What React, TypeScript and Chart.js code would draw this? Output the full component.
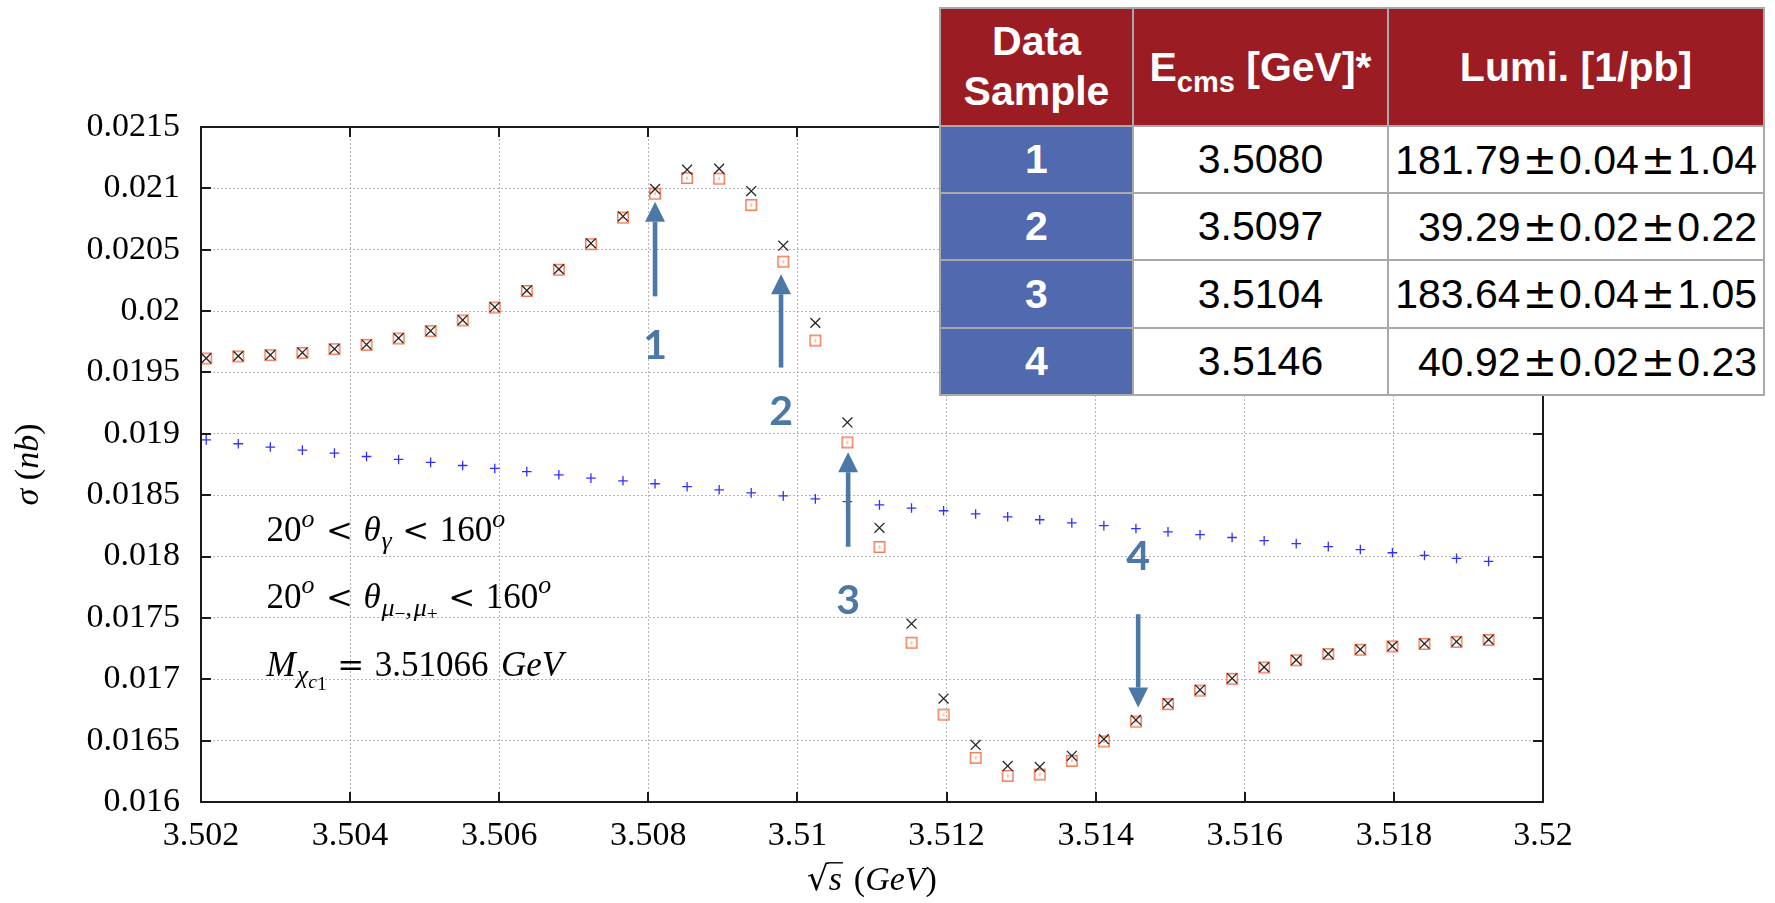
import React, { useEffect, useRef } from "react";
import { Chart, registerables } from "chart.js";

Chart.register(...registerables);

// ---- data ----
const energies = [
  3.50207, 3.5025, 3.50293, 3.50336, 3.50379, 3.50422, 3.50465, 3.50508, 3.50551, 3.50594,
  3.50637, 3.5068, 3.50723, 3.50766, 3.50809, 3.50852, 3.50895, 3.50938, 3.50981, 3.51024,
  3.51067, 3.5111, 3.51153, 3.51196, 3.51239, 3.51282, 3.51325, 3.51368, 3.51411, 3.51454,
  3.51497, 3.5154, 3.51583, 3.51626, 3.51669, 3.51712, 3.51755, 3.51798, 3.51841, 3.51884,
  3.51927,
];

const sigmaPlus = [
  0.018951, 0.018919, 0.018892, 0.018867, 0.018843, 0.018815, 0.018791, 0.018767, 0.018742, 0.018718,
  0.018692, 0.018666, 0.018639, 0.018617, 0.018593, 0.018569, 0.018544, 0.018519, 0.018494, 0.01847,
  0.018447, 0.018421, 0.018395, 0.018373, 0.018347, 0.018324, 0.0183, 0.018274, 0.018252, 0.018228,
  0.018201, 0.018178, 0.018155, 0.018129, 0.018105, 0.018081, 0.018057, 0.018031, 0.018009, 0.017985,
  0.017961,
];

const sigmaCross = [
  0.019616, 0.019633, 0.019643, 0.019662, 0.019692, 0.019727, 0.019779, 0.019839, 0.019927, 0.020032,
  0.020168, 0.020342, 0.020552, 0.020772, 0.020995, 0.021152, 0.02116, 0.020978, 0.020533, 0.019904,
  0.019093, 0.018234, 0.017453, 0.016843, 0.016465, 0.016294, 0.016286, 0.016376, 0.016512, 0.016669,
  0.016805, 0.016914, 0.017008, 0.017099, 0.017157, 0.017207, 0.017243, 0.01727, 0.01729, 0.017307,
  0.017323,
];

const sigmaSquare = [
  0.019614, 0.019631, 0.019641, 0.01966, 0.01969, 0.019725, 0.019777, 0.019837, 0.019924, 0.020029,
  0.020164, 0.020337, 0.020545, 0.020762, 0.020957, 0.021084, 0.021079, 0.020864, 0.020403, 0.01976,
  0.01893, 0.018078, 0.017298, 0.016712, 0.01636, 0.016213, 0.016224, 0.016335, 0.016493, 0.016655,
  0.016797, 0.016908, 0.017004, 0.017096, 0.017154, 0.017205, 0.017241, 0.017268, 0.017288, 0.017305,
  0.017321,
];

const xTickValues = [3.502, 3.504, 3.506, 3.508, 3.51, 3.512, 3.514, 3.516, 3.518, 3.52];
const xTickLabels = ["3.502", "3.504", "3.506", "3.508", "3.51", "3.512", "3.514", "3.516", "3.518", "3.52"];
const yTickValues = [0.016, 0.0165, 0.017, 0.0175, 0.018, 0.0185, 0.019, 0.0195, 0.02, 0.0205, 0.021, 0.0215];
const yTickLabels = ["0.016", "0.0165", "0.017", "0.0175", "0.018", "0.0185", "0.019", "0.0195", "0.02", "0.0205", "0.021", "0.0215"];

// arrows marking the data samples
const arrowEnergy = [3.50809, 3.50978, 3.51068, 3.51457];
const arrowTail = [0.02012, 0.01954, 0.01808, 0.01753];
const arrowTip = [0.02089, 0.0203, 0.01885, 0.01677];
const arrowLabel = ["1", "2", "3", "4"];
const arrowLabelY = [0.01972, 0.01918, 0.01764, 0.018];

// text annotations (data coordinates of each line's start / baseline)
const noteX = 3.50288;
const noteY = [0.018123, 0.017583, 0.017029];

// table
const sampleIds = ["1", "2", "3", "4"];
const sampleEcms = ["3.5080", "3.5097", "3.5104", "3.5146"];
const sampleLumi = ["181.79", "39.29", "183.64", "40.92"];
const sampleStat = ["0.04", "0.02", "0.04", "0.02"];
const sampleSyst = ["1.04", "0.22", "1.05", "0.23"];

// ---- helpers ----
type Run = { t: string; it?: boolean; s?: number; dy?: number; pre?: number; post?: number; bar?: boolean; fam?: string };
const SERIF = '"Liberation Serif", "DejaVu Serif", serif';
const WIDE = '"DejaVu Serif", serif';
const fontOf = (r: Run, base: number) =>
  `${r.it ? "italic " : ""}${((r.s ?? 1) * base).toFixed(2)}px ${r.fam ?? SERIF}`;

function runsWidth(ctx: CanvasRenderingContext2D, runs: Run[], base: number) {
  let w = 0;
  for (const r of runs) {
    ctx.font = fontOf(r, base);
    w += (r.pre ?? 0) * base + ctx.measureText(r.t).width + (r.post ?? 0) * base;
  }
  return w;
}

function drawRuns(ctx: CanvasRenderingContext2D, x: number, y: number, runs: Run[], base: number) {
  let cx = x;
  for (const r of runs) {
    cx += (r.pre ?? 0) * base;
    ctx.font = fontOf(r, base);
    ctx.fillText(r.t, cx, y + (r.dy ?? 0) * base);
    const w = ctx.measureText(r.t).width;
    if (r.bar) {
      ctx.save();
      ctx.lineWidth = 1.4;
      ctx.beginPath();
      ctx.moveTo(cx - 1, y - 0.8 * base);
      ctx.lineTo(cx + w + 1, y - 0.8 * base);
      ctx.stroke();
      ctx.restore();
    }
    cx += w + (r.post ?? 0) * base;
  }
}

const REL = 0.3;
const SUB = 0.74;
const noteLines: Run[][] = [
  [
    { t: "20" }, { t: "o", it: true, s: SUB, dy: -0.42, post: 0.03 },
    { t: "<", fam: WIDE, s: 0.92, pre: REL, post: REL },
    { t: "θ", it: true, post: 0.02 }, { t: "γ", it: true, s: SUB, dy: 0.22 },
    { t: "<", fam: WIDE, s: 0.92, pre: REL, post: REL },
    { t: "160" }, { t: "o", it: true, s: SUB, dy: -0.42 },
  ],
  [
    { t: "20" }, { t: "o", it: true, s: SUB, dy: -0.42, post: 0.03 },
    { t: "<", fam: WIDE, s: 0.92, pre: REL, post: REL },
    { t: "θ", it: true, post: 0.02 }, { t: "μ", it: true, s: SUB, dy: 0.24 }, { t: "−", s: 0.56, dy: 0.34 },
    { t: ",", s: SUB, dy: 0.24, post: 0.05 }, { t: "μ", it: true, s: SUB, dy: 0.24 }, { t: "+", s: 0.56, dy: 0.34 },
    { t: "<", fam: WIDE, s: 0.92, pre: REL, post: REL },
    { t: "160" }, { t: "o", it: true, s: SUB, dy: -0.42 },
  ],
  [
    { t: "M", it: true, post: 0.03 }, { t: "χ", it: true, s: SUB, dy: 0.22 },
    { t: "c", it: true, s: 0.56, dy: 0.36 }, { t: "1", s: 0.56, dy: 0.4 },
    { t: "=", fam: WIDE, s: 0.92, pre: REL, post: REL },
    { t: "3.51066" }, { t: "GeV", it: true, pre: 0.36 },
  ],
];

const yTitle: Run[] = [{ t: "σ", it: true }, { t: " (" }, { t: "nb", it: true }, { t: ")" }];
const xTitle: Run[] = [
  { t: "√", fam: WIDE },
  { t: "s", it: true, bar: true },
  { t: " (", pre: 0.1 },
  { t: "GeV", it: true },
  { t: ")" },
];

const ARROW = "#4c78a8";

const overlayPlugin = {
  id: "overlay",
  afterDatasetsDraw(chart: any) {
    const ctx: CanvasRenderingContext2D = chart.ctx;
    const { left, right, top, bottom } = chart.chartArea;
    const xs = chart.scales.x;
    const ys = chart.scales.y;
    ctx.save();

    // frame
    ctx.strokeStyle = "#1a1a1a";
    ctx.lineWidth = 2;
    ctx.strokeRect(left, top, right - left, bottom - top);
    // inward ticks on all four sides
    ctx.beginPath();
    for (const v of xTickValues) {
      const px = Math.round(xs.getPixelForValue(v));
      ctx.moveTo(px, bottom); ctx.lineTo(px, bottom - 10);
      ctx.moveTo(px, top); ctx.lineTo(px, top + 10);
    }
    for (const v of yTickValues) {
      const py = Math.round(ys.getPixelForValue(v));
      ctx.moveTo(left, py); ctx.lineTo(left + 10, py);
      ctx.moveTo(right, py); ctx.lineTo(right - 10, py);
    }
    ctx.stroke();

    // arrows
    ctx.fillStyle = ARROW;
    for (let i = 0; i < arrowEnergy.length; i++) {
      const x = xs.getPixelForValue(arrowEnergy[i]);
      const y0 = ys.getPixelForValue(arrowTail[i]);
      const y1 = ys.getPixelForValue(arrowTip[i]);
      const dir = Math.sign(y1 - y0);
      const head = 20;
      const hw = 10;
      const yb = y1 - dir * head;
      ctx.fillRect(x - 2.3, Math.min(y0, yb), 4.6, Math.abs(yb - y0));
      ctx.beginPath();
      ctx.moveTo(x, y1);
      ctx.lineTo(x - hw, yb);
      ctx.lineTo(x + hw, yb);
      ctx.closePath();
      ctx.fill();
      ctx.font = '700 41px Lato, "Open Sans", sans-serif';
      ctx.textAlign = "center";
      ctx.textBaseline = "middle";
      ctx.fillText(arrowLabel[i], x, ys.getPixelForValue(arrowLabelY[i]));
    }

    // annotations
    ctx.fillStyle = "#000";
    ctx.strokeStyle = "#000";
    ctx.textAlign = "left";
    ctx.textBaseline = "alphabetic";
    const base = 35;
    noteLines.forEach((runs, i) => {
      drawRuns(ctx, xs.getPixelForValue(noteX), ys.getPixelForValue(noteY[i]), runs, base);
    });

    // axis titles
    const tb = 34;
    const wx = runsWidth(ctx, xTitle, tb);
    drawRuns(ctx, (left + right) / 2 - wx / 2, 890, xTitle, tb);

    ctx.save();
    ctx.translate(29, (top + bottom) / 2);
    ctx.rotate(-Math.PI / 2);
    const wy = runsWidth(ctx, yTitle, tb);
    drawRuns(ctx, -wy / 2, 9, yTitle, tb);
    ctx.restore();

    ctx.restore();
  },
};

function ChartCanvas() {
  const ref = useRef<HTMLCanvasElement | null>(null);
  useEffect(() => {
    if (!ref.current) return;
    const sq = document.createElement("canvas");
    sq.width = 14;
    sq.height = 14;
    const c = sq.getContext("2d")!;
    c.strokeStyle = "#f27b56";
    c.lineWidth = 1.5;
    c.strokeRect(1.75, 1.75, 10.5, 10.5);
    c.lineWidth = 1;
    c.beginPath();
    c.moveTo(7, 5.5);
    c.lineTo(7, 8.5);
    c.stroke();

    const pts = (arr: number[]) => energies.map((x, i) => ({ x, y: arr[i] }));
    const tickFont = { family: SERIF, size: 34 };

    const chart = new Chart(ref.current, {
      type: "scatter",
      data: {
        datasets: [
          {
            label: "cross",
            data: pts(sigmaCross),
            pointStyle: "crossRot",
            pointRadius: 7,
            borderWidth: 1.3,
            borderColor: "#262626",
            backgroundColor: "#262626",
            order: 0,
          },
          {
            label: "square",
            data: pts(sigmaSquare),
            pointStyle: sq as any,
            pointRadius: 7,
            borderColor: "#f27b56",
            backgroundColor: "#f27b56",
            order: 1,
          },
          {
            label: "plus",
            data: pts(sigmaPlus),
            pointStyle: "cross",
            pointRadius: 4.8,
            borderWidth: 1.3,
            borderColor: "#3030ff",
            backgroundColor: "#3030ff",
            order: 2,
          },
        ],
      },
      options: {
        animation: false,
        responsive: false,
        maintainAspectRatio: false,
        events: [],
        layout: { padding: { top: 127, right: 232, bottom: 0, left: 0 } },
        plugins: { legend: { display: false }, tooltip: { enabled: false } },
        scales: {
          x: {
            type: "linear",
            min: 3.502,
            max: 3.52,
            afterBuildTicks: (s: any) => {
              s.ticks = xTickValues.map((v) => ({ value: v }));
            },
            afterFit: (s: any) => {
              s.height = 101;
            },
            ticks: {
              autoSkip: false,
              maxRotation: 0,
              padding: 14,
              color: "#000",
              font: tickFont,
              callback: (_v: any, i: number) => xTickLabels[i],
            },
            grid: { color: "#b4b4b4", lineWidth: 1, drawTicks: false },
            border: { display: false, dash: [2, 2] },
          },
          y: {
            type: "linear",
            min: 0.016,
            max: 0.0215,
            afterBuildTicks: (s: any) => {
              s.ticks = yTickValues.map((v) => ({ value: v }));
            },
            afterFit: (s: any) => {
              s.width = 201;
            },
            ticks: {
              autoSkip: false,
              padding: 21,
              color: "#000",
              font: tickFont,
              callback: (_v: any, i: number) => yTickLabels[i],
            },
            grid: { color: "#b4b4b4", lineWidth: 1, drawTicks: false },
            border: { display: false, dash: [2, 2] },
          },
        },
      },
      plugins: [overlayPlugin],
    } as any);
    return () => chart.destroy();
  }, []);
  return <canvas ref={ref} width={1775} height={903} style={{ display: "block", width: 1775, height: 903 }} />;
}

const SANS = '"Liberation Sans", Arial, sans-serif';
const RED = "#9b1d23";
const BLUE = "#5169ae";

const cell = (bg: string, extra: React.CSSProperties = {}): React.CSSProperties => ({
  background: bg,
  display: "flex",
  alignItems: "center",
  justifyContent: "center",
  fontFamily: SANS,
  ...extra,
});

function PM() {
  return <span style={{ fontFamily: '"DejaVu Sans", sans-serif', margin: "0 2px" }}>±</span>;
}

function SampleTable() {
  return (
    <div
      style={{
        position: "absolute",
        left: 939,
        top: 7,
        width: 826,
        height: 389,
        boxSizing: "border-box",
        padding: 2,
        gap: 2,
        background: "#a9a9a9",
        display: "grid",
        gridTemplateColumns: "191px 253px 374px",
        gridTemplateRows: "116px 65px 65px 66px 65px",
      }}
    >
      <div style={cell(RED, { color: "#fff", fontWeight: 700, fontSize: 41, lineHeight: "50px", textAlign: "center", flexDirection: "column", paddingBottom: 2 })}>
        <span>Data</span>
        <span>Sample</span>
      </div>
      <div style={cell(RED, { color: "#fff", fontWeight: 700, fontSize: 41, whiteSpace: "pre" })}>
        <span>
          E<span style={{ fontSize: 29, position: "relative", top: 11 }}>cms</span> [GeV]*
        </span>
      </div>
      <div style={cell(RED, { color: "#fff", fontWeight: 700, fontSize: 41 })}>Lumi. [1/pb]</div>
      {sampleIds.map((id, i) => (
        <React.Fragment key={id}>
          <div style={cell(BLUE, { color: "#fff", fontWeight: 700, fontSize: 41 })}>{id}</div>
          <div style={cell("#fff", { color: "#000", fontSize: 41 })}>{sampleEcms[i]}</div>
          <div style={cell("#fff", { color: "#000", fontSize: 41, justifyContent: "flex-end", paddingRight: 6, whiteSpace: "pre" })}>
            <span>
              {sampleLumi[i]}
              <PM />
              {sampleStat[i]}
              <PM />
              {sampleSyst[i]}
            </span>
          </div>
        </React.Fragment>
      ))}
    </div>
  );
}

export default function App() {
  return (
    <div style={{ position: "absolute", left: 0, top: 0, width: 1775, height: 903, background: "#fff", overflow: "hidden" }}>
      <ChartCanvas />
      <SampleTable />
    </div>
  );
}
